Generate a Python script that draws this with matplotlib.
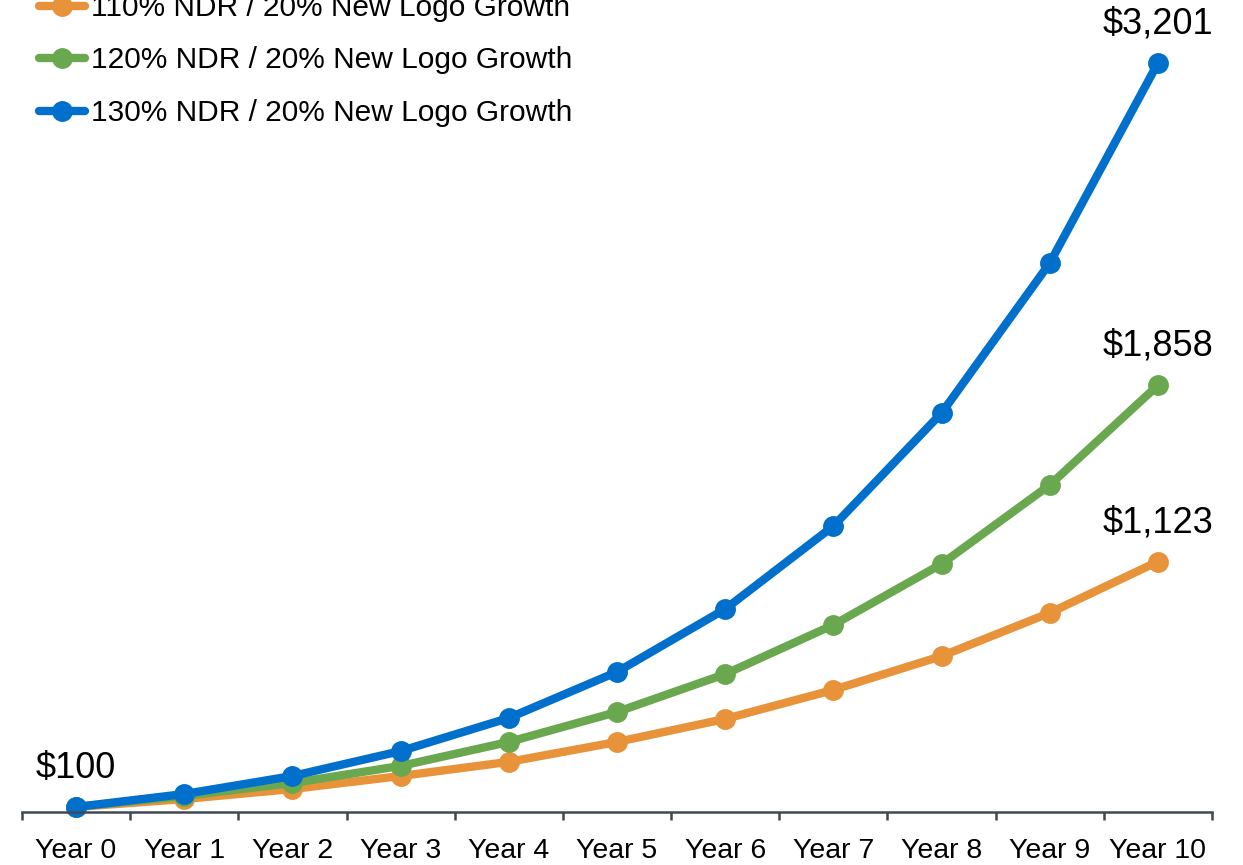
import matplotlib.pyplot as plt
import numpy as np

plt.rcParams['font.family'] = ['Liberation Sans', 'DejaVu Sans']

years = ["Year 0", "Year 1", "Year 2", "Year 3", "Year 4", "Year 5",
         "Year 6", "Year 7", "Year 8", "Year 9", "Year 10"]
ndr_110 = [100, 133, 175, 229, 288, 371, 467, 588, 729, 909, 1123]
ndr_120 = [100, 146, 200, 271, 371, 496, 654, 859, 1113, 1442, 1858]
ndr_130 = [100, 154, 229, 333, 471, 663, 925, 1271, 1742, 2367, 3201]
series_names = ["110% NDR / 20% New Logo Growth",
                "120% NDR / 20% New Logo Growth",
                "130% NDR / 20% New Logo Growth"]
colors = ["#E8923A", "#6AA84F", "#0070CC"]

W, H = 1243, 865
fig = plt.figure(figsize=(W / 100, H / 100), dpi=100)
ax = fig.add_axes([22 / W, (H - 812) / H, 1190 / W, 812 / H])

x = np.arange(len(years))
handles = []
for vals, name, c in zip([ndr_110, ndr_120, ndr_130], series_names, colors):
    h, = ax.plot(x, vals, color=c, lw=6, marker="o", ms=14,
                 label=name, clip_on=False, solid_capstyle="round")
    handles.append(h)

# value callouts on the first and last points
ax.annotate("$100", (0, ndr_110[0]), xytext=(0, 28), textcoords="offset points",
            ha="center", va="center", fontsize=26)
for vals in [ndr_110, ndr_120, ndr_130]:
    ax.annotate(f"${vals[-1]:,}", (x[-1], vals[-1]), xytext=(0, 28),
                textcoords="offset points", ha="center", va="center", fontsize=26)

ax.set_xlim(-0.5, len(years) - 0.5)
ax.set_ylim(79, 3464)

for side in ["top", "right", "left"]:
    ax.spines[side].set_visible(False)
ax.spines["bottom"].set_color("#404853")
ax.spines["bottom"].set_linewidth(1.8)
ax.set_yticks([])

ax.set_xticks(np.arange(-0.5, len(years)), labels=[])
ax.tick_params(axis="x", which="major", length=6, width=1.8, color="#404853")
ax.set_xticks(x, labels=years, minor=True)
ax.tick_params(axis="x", which="minor", length=0, pad=19, labelsize=20.5)

fig.legend(handles=handles, loc="upper left", bbox_to_anchor=(39 / W, 1 + 6 / H),
           frameon=False, fontsize=21.5, borderpad=0, labelspacing=0.82,
           handlelength=1.55, handletextpad=0.2, borderaxespad=0)

fig.savefig("out.png", dpi=100)
